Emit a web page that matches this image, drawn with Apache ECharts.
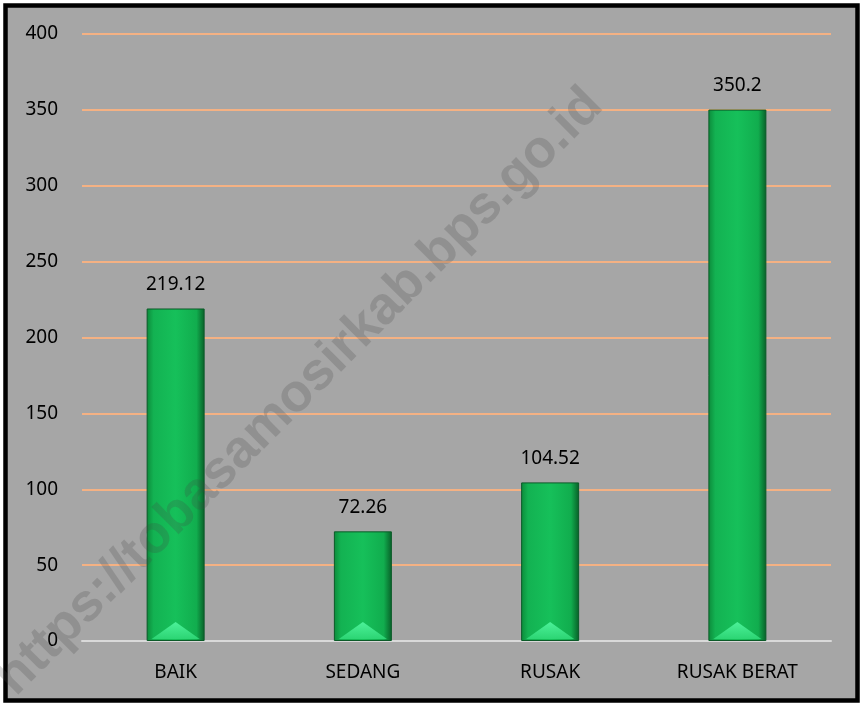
<!DOCTYPE html>
<html>
<head>
<meta charset="utf-8">
<script src="https://cdn.jsdelivr.net/npm/echarts@6/dist/echarts.min.js"></script>
<style>
  html, body { margin: 0; padding: 0; background: #fff; }
  #main { width: 861px; height: 703px; }
</style>
</head>
<body>
<div id="main"></div>
<script>
// kondisi jalan (km)
const categories = ['BAIK', 'SEDANG', 'RUSAK', 'RUSAK BERAT'];
const values = [219.12, 72.26, 104.52, 350.2];
const yTicks = {min: 0, max: 400, interval: 50};

const chart = echarts.init(document.getElementById('main'));
const font = '"Noto Sans", "Open Sans", sans-serif';

chart.setOption({
  backgroundColor: '#ffffff',
  animation: false,
  graphic: [
    {
      type: 'rect',
      z: -10,
      shape: {x: 5.5, y: 5.5, width: 852, height: 695},
      style: {fill: '#a6a6a6', stroke: '#000', lineWidth: 4.5}
    },
    {
      type: 'text',
      z: 100,
      x: 300,
      y: 392,
      rotation: Math.PI / 4,
      style: {
        text: 'https://tobasamosirkab.bps.go.id',
        fontSize: 53,
        fontWeight: 'bold',
        fontFamily: '"Liberation Sans", Arial, sans-serif',
        fill: 'rgba(70,70,70,0.22)',
        align: 'center',
        verticalAlign: 'middle'
      }
    }
  ],
  grid: {left: 82, right: 30, top: 34, bottom: 62},
  xAxis: {
    type: 'category',
    data: categories,
    axisTick: {show: false},
    axisLine: {lineStyle: {color: '#d9d9d9', width: 2}},
    axisLabel: {color: '#000', fontSize: 19, fontFamily: font, margin: 22}
  },
  yAxis: {
    type: 'value',
    min: yTicks.min,
    max: yTicks.max,
    interval: yTicks.interval,
    axisLine: {show: false},
    axisTick: {show: false},
    axisLabel: {color: '#000', fontSize: 19, fontFamily: font, margin: 24},
    splitLine: {lineStyle: {color: '#f4b183', width: 2}}
  },
  series: [
    {
      type: 'bar',
      data: values,
      barWidth: 58,
      itemStyle: {
        borderColor: '#0b5a28',
        borderWidth: 1,
        color: {
          type: 'linear', x: 0, y: 0, x2: 1, y2: 0,
          colorStops: [
            {offset: 0, color: '#0c8a3a'},
            {offset: 0.12, color: '#13b252'},
            {offset: 0.5, color: '#16c05a'},
            {offset: 0.86, color: '#11ad4e'},
            {offset: 1, color: '#085f28'}
          ]
        }
      },
      label: {
        show: true,
        position: 'top',
        distance: 14,
        color: '#000',
        fontSize: 19,
        fontFamily: font
      }
    },
    {
      type: 'pictorialBar',
      data: values,
      symbol: 'triangle',
      symbolSize: [48, 17],
      symbolPosition: 'start',
      symbolOffset: [0, -2],
      z: 3,
      itemStyle: {
        opacity: 0.9,
        color: {
          type: 'linear', x: 0, y: 0, x2: 0, y2: 1,
          colorStops: [
            {offset: 0, color: '#52f7a0'},
            {offset: 1, color: '#2fd877'}
          ]
        }
      }
    }
  ]
});
</script>
</body>
</html>
